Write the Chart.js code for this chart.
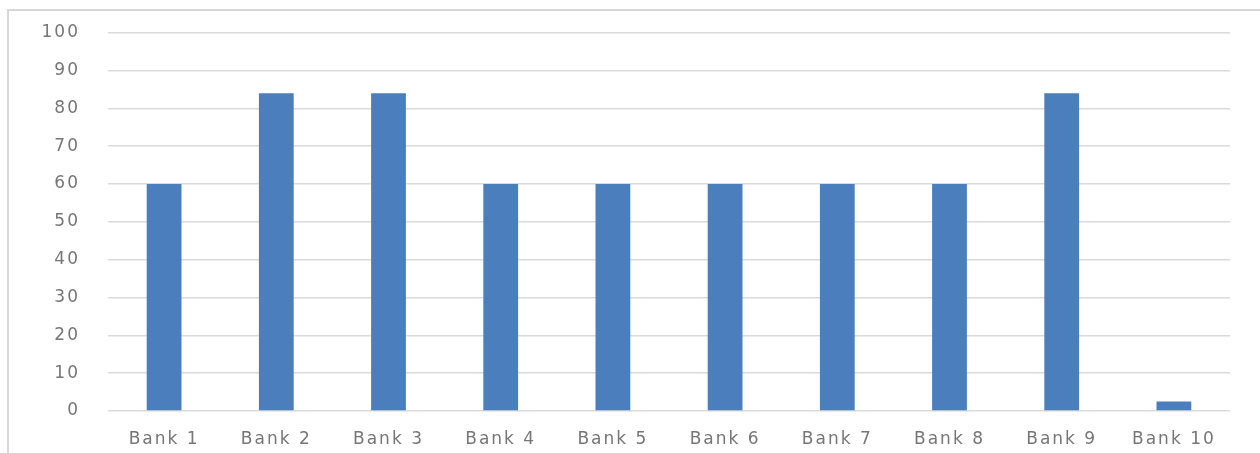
<!DOCTYPE html>
<html>
<head>
<meta charset="utf-8">
<script src="https://cdn.jsdelivr.net/npm/chart.js@4"></script>
<style>
  body { margin: 0; background: #fff; }
  #frame {
    position: absolute; left: 7px; top: 9px; right: 0; bottom: 0;
    border-left: 2px solid #d6d6d6; border-top: 2px solid #d6d6d6;
  }
  #chart { position: absolute; left: 0; top: 0; }
</style>
</head>
<body>
<div id="frame"></div>
<canvas id="chart" width="1260" height="453"></canvas>
<script>
const banks = ["Bank 1", "Bank 2", "Bank 3", "Bank 4", "Bank 5", "Bank 6", "Bank 7", "Bank 8", "Bank 9", "Bank 10"];
const scores = [60, 84, 84, 60, 60, 60, 60, 60, 84, 2.5];
const yMin = 0;
const yMax = 100;
const yStep = 10;

// a bit of extra letter spacing for the axis text
const spacing = {
  id: "spacing",
  beforeUpdate: (chart) => { chart.ctx.letterSpacing = "2px"; },
  beforeDraw: (chart) => { chart.ctx.letterSpacing = "2px"; },
};

const xFont = { family: "DejaVu Sans", size: 17 };
// short line height so the top label doesn't push the plot down
const yFont = { family: "DejaVu Sans", size: 17, lineHeight: 0.55 };

new Chart(document.getElementById("chart").getContext("2d"), {
  type: "bar",
  data: {
    labels: banks,
    datasets: [
      {
        data: scores,
        backgroundColor: "#4a7ebd",
        barPercentage: 0.31,
        categoryPercentage: 1,
      },
    ],
  },
  options: {
    responsive: false,
    animation: false,
    layout: { padding: { top: 20, right: 30, left: 0, bottom: 0 } },
    plugins: { legend: { display: false }, tooltip: { enabled: false } },
    scales: {
      x: {
        grid: { display: false },
        border: { display: false },
        ticks: { color: "#767676", font: xFont, padding: 10, maxRotation: 0 },
        afterFit: (scale) => { scale.height = 42; },
      },
      y: {
        min: yMin,
        max: yMax,
        ticks: { stepSize: yStep, color: "#767676", font: yFont, padding: 28 },
        grid: { color: "#dadada", lineWidth: 1.5, drawTicks: false },
        border: { display: false },
        afterFit: (scale) => { scale.width = 108; },
      },
    },
  },
  plugins: [spacing],
});
</script>
</body>
</html>
